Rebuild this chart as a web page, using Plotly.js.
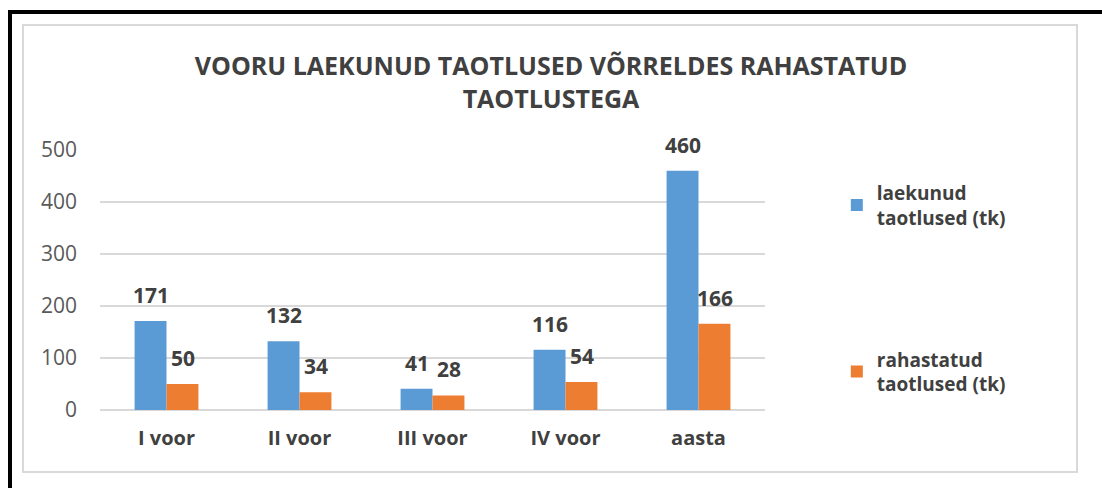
<!DOCTYPE html>
<html>
<head>
<meta charset="utf-8">
<script src="https://cdn.plot.ly/plotly-3.0.1.min.js"></script>
<style>
  html, body { margin: 0; padding: 0; background: #fff; }
  #wrap { position: relative; width: 1102px; height: 488px; overflow: hidden; }
  #outer { position: absolute; left: 8px; top: 10px; width: 1200px; height: 600px;
           border-top: 4px solid #000; border-left: 4px solid #000; box-sizing: border-box; }
  #inner { position: absolute; left: 22px; top: 24px; width: 1056px; height: 449px;
           border: 2px solid #d9d9d9; box-sizing: border-box; }
  #chart { position: absolute; left: 0; top: 0; width: 1102px; height: 488px; }
</style>
</head>
<body>
<div id="wrap">
  <div id="outer"></div>
  <div id="inner"></div>
  <div id="chart"></div>
</div>
<script>
const categories = ["I voor", "II voor", "III voor", "IV voor", "aasta"];
const laekunud = [171, 132, 41, 116, 460];
const rahastatud = [50, 34, 28, 54, 166];
const seriesNames = ["laekunud<br>taotlused (tk)", "rahastatud<br>taotlused (tk)"];
const yTicks = [0, 100, 200, 300, 400, 500];

const font = "'Open Sans', 'DejaVu Sans', sans-serif";
const labelFont = { family: font, size: 21, color: "#404040", weight: "bold" };

const traces = [
  {
    type: "bar", x: categories, y: laekunud, name: seriesNames[0],
    legendgroup: "a",
    marker: { color: "#5b9bd5" },
    hoverinfo: "none"
  },
  {
    type: "bar", x: categories, y: rahastatud, name: seriesNames[1],
    legendgroup: "b",
    marker: { color: "#ed7d31" },
    hoverinfo: "none"
  }
];

const barHalf = 16;
const annotations = [];
categories.forEach((c, i) => {
  annotations.push({ x: c, y: laekunud[i], xref: "x", yref: "y", text: String(laekunud[i]),
    showarrow: false, xanchor: "center", yanchor: "bottom", xshift: -barHalf, yshift: 10, font: labelFont });
  annotations.push({ x: c, y: rahastatud[i], xref: "x", yref: "y", text: String(rahastatud[i]),
    showarrow: false, xanchor: "center", yanchor: "bottom", xshift: barHalf, yshift: 10, font: labelFont });
});

const layout = {
  width: 1102, height: 488,
  paper_bgcolor: "rgba(0,0,0,0)", plot_bgcolor: "rgba(0,0,0,0)",
  margin: { l: 100, r: 337, t: 150, b: 78 },
  barmode: "group", bargap: 0.52, bargroupgap: 0,
  title: {
    text: "VOORU LAEKUNUD TAOTLUSED VÕRRELDES RAHASTATUD<br>TAOTLUSTEGA",
    font: { family: font, size: 25, color: "#404040", weight: "bold" },
    x: 0.5, xanchor: "center", xref: "container",
    y: 0.846, yanchor: "middle", yref: "container"
  },
  annotations: annotations,
  xaxis: {
    type: "category",
    tickfont: { family: font, size: 20, color: "#404040", weight: "bold" },
    showline: false, showgrid: false, ticks: "", ticklen: 0,
    ticklabelstandoff: 14,
    fixedrange: true
  },
  yaxis: {
    range: [0, 500], tickvals: yTicks,
    tickfont: { family: font, size: 21, color: "#595959" },
    showgrid: true, gridcolor: "#d9d9d9", gridwidth: 2,
    zeroline: true, zerolinecolor: "#d9d9d9", zerolinewidth: 2,
    showline: false, ticks: "", ticklabelstandoff: 22,
    fixedrange: true
  },
  showlegend: true,
  legend: {
    x: 1.108, xref: "paper", xanchor: "left",
    y: 0.908, yanchor: "top",
    font: { family: font, size: 19, color: "#404040", weight: "bold" },
    tracegroupgap: 114, itemwidth: 30,
    bgcolor: "rgba(0,0,0,0)"
  }
};

Plotly.newPlot("chart", traces, layout, { displayModeBar: false, staticPlot: true });
</script>
</body>
</html>
